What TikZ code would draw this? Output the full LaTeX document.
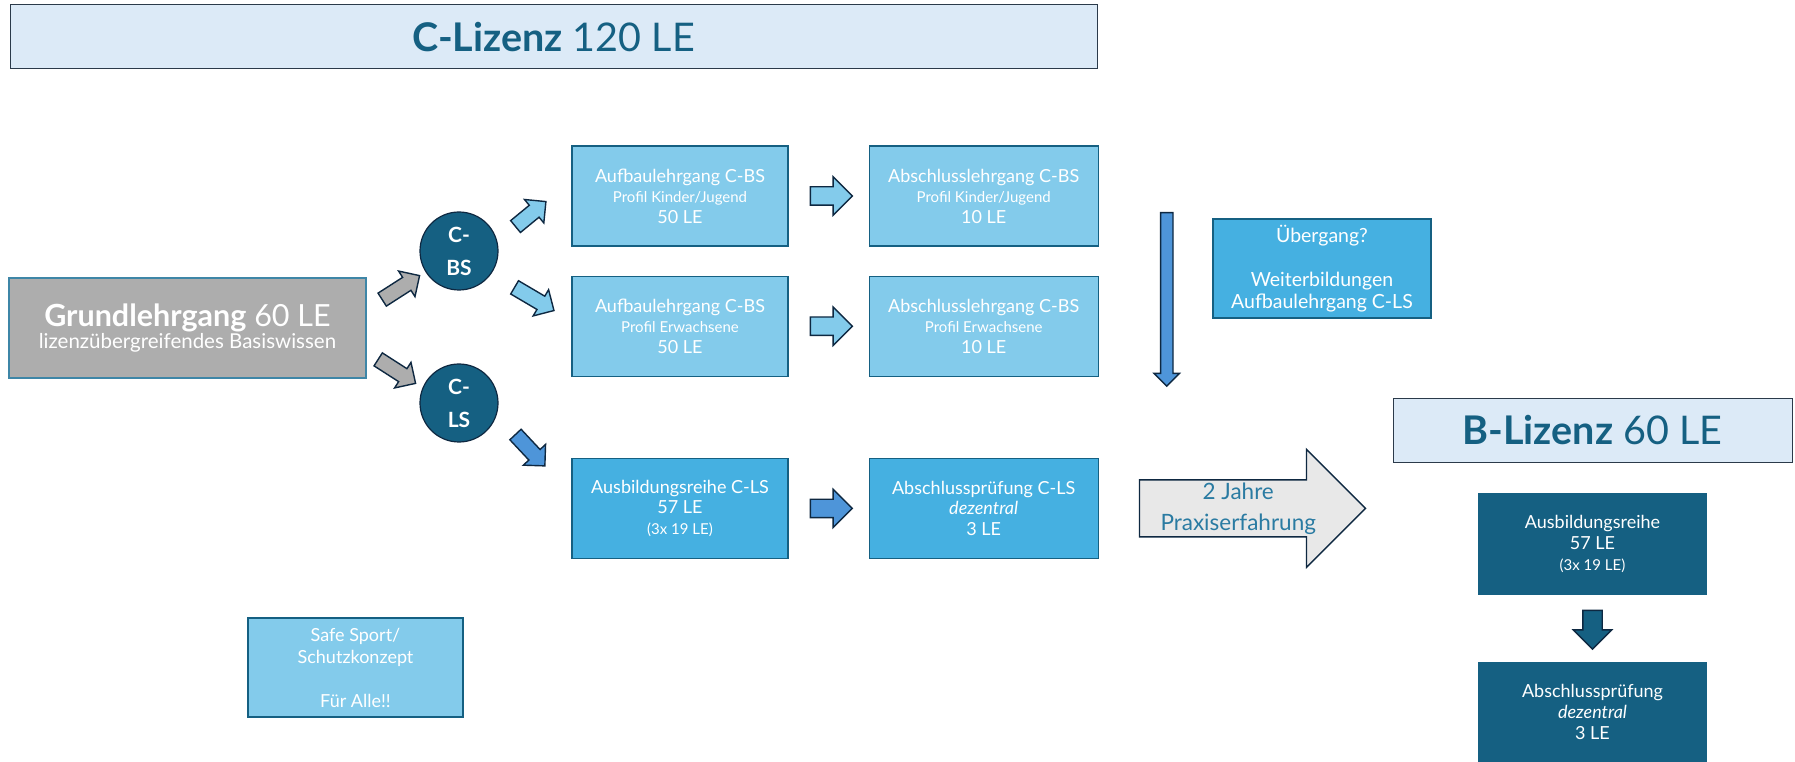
\documentclass[tikz,border=0pt]{standalone}
\usepackage{fontspec}
\setmainfont{Lato}
\usetikzlibrary{
  shapes.arrows
  , calc
  , positioning
}
\definecolor{petrol}{HTML}{156082}
\definecolor{dunkel}{HTML}{0E2841}
\definecolor{hellblau}{HTML}{83CBEB}
\definecolor{mittelblau}{HTML}{45B0E1}
\definecolor{pfeilblau}{HTML}{4E95D9}
\definecolor{kopfblau}{HTML}{DCEAF7}
\definecolor{grau}{HTML}{ADADAD}
\definecolor{hellgrau}{HTML}{E8E8E8}
\definecolor{rahmen}{HTML}{2B3A4A}
\definecolor{grundrand}{HTML}{3E86A7}
\definecolor{textblau}{HTML}{2A7BA2}

\newcommand{\fz}[2]{\fontsize{#1}{#2}\selectfont}
% block arrow between two named points
\newcommand{\blockpfeil}[4][]{%
  \path let \p1=($(#3)-(#2)$),
            \n1={atan2(\y1,\x1)},
            \n2={veclen(\x1,\y1)} in
    node[blockpf, #1, rotate=\n1, minimum height=\n2, anchor=tail] at (#2) {#4};
}

\begin{document}
\begin{tikzpicture}[x=1pt, y=1pt,
    kasten/.style={draw=petrol, line width=1.2pt, text=white, align=center,
      inner sep=0pt, font=\fz{18}{20.5}},
    hell/.style={kasten, fill=hellblau},
    mittel/.style={kasten, fill=mittelblau},
    dunkelbox/.style={kasten, fill=petrol, font=\fz{18}{21}},
    kopf/.style={draw=rahmen, fill=kopfblau, line width=1pt, text=petrol,
      inner sep=0pt},
    kreis/.style={circle, fill=petrol, draw=dunkel, line width=1.2pt,
      minimum size=78pt, inner sep=0pt, text=white, align=center,
      font=\bfseries\fz{21}{33}},
    blockpf/.style={single arrow, draw=dunkel, line width=1.4pt,
      inner xsep=0pt, inner ysep=7pt, single arrow head extend=7.5pt}
  ]
  \useasboundingbox (0,0) rectangle (1795,761);

  % C-Lizenz
  \node[kopf, minimum width=1087pt, minimum height=64pt] (clz) at (553.5,724)
    {\fz{39.5}{44}\textbf{C-Lizenz} 120 LE};

  \node[draw=grundrand, fill=grau, line width=1.2pt, text=white, align=center,
    minimum width=357pt, minimum height=100pt, inner sep=0pt] (grund) at (187.5,433)
    {\fz{30.5}{31}\textbf{Grundlehrgang} 60 LE\\\fz{20.5}{31}lizenzübergreifendes Basiswissen};

  \node[kreis] (cbs) at (459,510) {C-\\BS};
  \node[kreis] (cls) at (459,358) {C-\\LS};

  \node[hell, minimum width=216pt, minimum height=100pt] (auf1) at (680,565)
    {Aufbaulehrgang C-BS\\{\fz{15}{20.5}Profil Kinder/Jugend}\\50 LE};
  \node[hell, minimum width=229pt, minimum height=100pt, right=80pt of auf1] (abs1)
    {Abschlusslehrgang C-BS\\{\fz{15}{20.5}Profil Kinder/Jugend}\\10 LE};
  \node[hell, minimum width=216pt, minimum height=100pt, below=29pt of auf1] (auf2)
    {Aufbaulehrgang C-BS\\{\fz{15}{20.5}Profil Erwachsene}\\50 LE};
  \node[hell, minimum width=229pt, minimum height=100pt, right=80pt of auf2] (abs2)
    {Abschlusslehrgang C-BS\\{\fz{15}{20.5}Profil Erwachsene}\\10 LE};
  \node[mittel, minimum width=216pt, minimum height=100pt, below=81pt of auf2] (ausb)
    {Ausbildungsreihe C-LS\\57 LE\\{\fz{15}{20.5}(3x 19 LE)}};
  \node[mittel, minimum width=229pt, minimum height=100pt, right=80pt of ausb] (pruef)
    {Abschlussprüfung C-LS\\\textit{dezentral}\\3 LE};

  \node[mittel, minimum width=218pt, minimum height=99pt, font=\fz{19.5}{22}] (ueber)
    at (1322,492.5) {Übergang?\\[22pt]Weiterbildungen\\Aufbaulehrgang C-LS};

  \node[hell, minimum width=215pt, minimum height=99pt, font=\fz{18}{22}] (safe) at (355.5,93.5)
    {Safe Sport/\\Schutzkonzept\\[22pt]Für Alle!!};

  % B-Lizenz
  \node[kopf, minimum width=399pt, minimum height=64pt] (blz) at (1592.5,330.5)
    {\fz{39.5}{44}\textbf{B-Lizenz} 60 LE};
  \node[dunkelbox, minimum width=227pt, minimum height=100pt] (bausb) at (1592.5,217)
    {Ausbildungsreihe\\57 LE\\{\fz{15}{21}(3x 19 LE)}};
  \node[dunkelbox, minimum width=227pt, minimum height=98pt] (bpruef) at (1592.5,49)
    {Abschlussprüfung\\\textit{dezentral}\\3 LE};

  % ends of the block arrows
  \coordinate (g1a) at ($(grund.east)+(15,28)$);
  \coordinate (g1b) at ($(cbs)+(-40,-25)$);
  \coordinate (g2a) at ($(grund.east)+(11,-31)$);
  \coordinate (g2b) at ($(cls)+(-44,20)$);
  \coordinate (h1a) at ($(cbs)+(56,24)$);
  \coordinate (h1b) at ($(auf1.west)+(-26,-6)$);
  \coordinate (h2a) at ($(cbs)+(55,-36)$);
  \coordinate (h2b) at ($(auf2.west)+(-18,16)$);
  \coordinate (h3a) at ($(cls)+(56,-31)$);
  \coordinate (h3b) at ($(ausb.west)+(-27,43)$);
  \coordinate (va) at ($(abs1.east)+(68,-16)$);
  \coordinate (vb) at ($(pruef.east)+(68,123)$);
  \coordinate (pa) at ($(pruef.east)+(40,0)$);
  \coordinate (pb) at ($(pruef.east)+(266,0)$);
  \coordinate (ba) at ($(bausb.south)+(0,-15)$);
  \coordinate (bb) at ($(bpruef.north)+(0,14)$);

  \blockpfeil[fill=grau]{g1a}{g1b}{}
  \blockpfeil[fill=grau]{g2a}{g2b}{}
  \blockpfeil[fill=hellblau]{h1a}{h1b}{}
  \blockpfeil[fill=hellblau]{h2a}{h2b}{}
  \blockpfeil[fill=pfeilblau]{h3a}{h3b}{}
  \foreach \l/\r/\f in {auf1/abs1/hellblau, auf2/abs2/hellblau, ausb/pruef/pfeilblau}{
    \coordinate (qa) at ($(\l.east)+(21,0)$);
    \coordinate (qb) at ($(\r.west)+(-17,0)$);
    \blockpfeil[fill=\f, inner ysep=8.5pt, single arrow head extend=10pt]{qa}{qb}{}
  }
  \blockpfeil[fill=pfeilblau, inner ysep=5.5pt, single arrow head extend=6.5pt]{va}{vb}{}
  \blockpfeil[fill=hellgrau, inner ysep=2pt, single arrow head extend=30.5pt,
    text=textblau, align=center, font=\fz{22.5}{31}]{pa}{pb}{2 Jahre\\Praxiserfahrung}
  \blockpfeil[fill=petrol, inner ysep=9pt, single arrow head extend=9.5pt]{ba}{bb}{}
\end{tikzpicture}
\end{document}
